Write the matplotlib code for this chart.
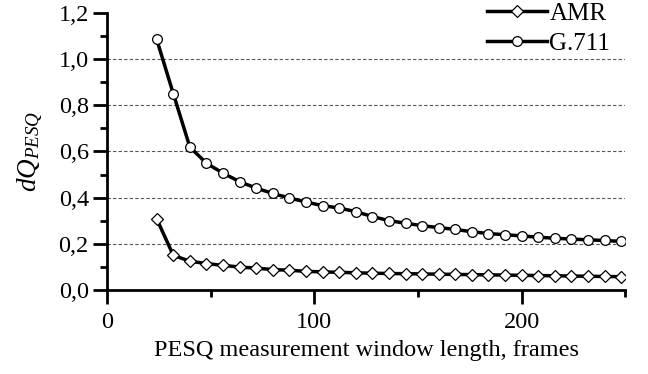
import matplotlib
matplotlib.use("Agg")
import matplotlib.pyplot as plt
from matplotlib.ticker import MultipleLocator, FuncFormatter

# =========================================================
# 1. DATA
# =========================================================

window_frames = [24, 32, 40, 48, 56, 64, 72, 80, 88, 96, 104, 112, 120, 128,
                 136, 144, 152, 160, 168, 176, 184, 192, 200, 208, 216, 224,
                 232, 240, 248]

dq_g711 = [1.086, 0.851, 0.619, 0.549, 0.506, 0.469, 0.441, 0.418, 0.398,
           0.381, 0.365, 0.355, 0.339, 0.318, 0.300, 0.289, 0.278, 0.270,
           0.262, 0.252, 0.244, 0.239, 0.234, 0.228, 0.224, 0.220, 0.217,
           0.214, 0.210]

dq_amr = [0.308, 0.150, 0.124, 0.114, 0.106, 0.099, 0.094, 0.088, 0.085,
          0.080, 0.078, 0.076, 0.074, 0.072, 0.071, 0.070, 0.069, 0.068,
          0.067, 0.066, 0.065, 0.064, 0.063, 0.062, 0.061, 0.060, 0.059,
          0.058, 0.057]

# =========================================================
# 2. STYLE
# =========================================================

plt.rcParams["font.family"] = ["Liberation Serif", "DejaVu Serif"]
plt.rcParams["mathtext.fontset"] = "custom"
plt.rcParams["mathtext.it"] = "Liberation Serif:italic"
plt.rcParams["mathtext.rm"] = "Liberation Serif"

LINE_COLOR = "black"
GRID_COLOR = "#555555"
FONT_SIZE = 17.5

# =========================================================
# 3. PLOT
# =========================================================

fig = plt.figure(figsize=(6.48, 3.74), dpi=100)
ax = fig.add_axes([0.165, 0.225, 0.800, 0.740])

ax.plot(
    window_frames,
    dq_amr,
    color=LINE_COLOR,
    linewidth=2.5,
    marker="D",
    markersize=6.5,
    markerfacecolor="white",
    markeredgecolor="black",
    markeredgewidth=0.9,
    label="AMR",
    zorder=3,
)

ax.plot(
    window_frames,
    dq_g711,
    color=LINE_COLOR,
    linewidth=2.5,
    marker="o",
    markersize=7,
    markerfacecolor="white",
    markeredgecolor="black",
    markeredgewidth=0.9,
    label="G.711",
    zorder=3,
)

ax.set_xlim(0, 250)
ax.set_ylim(0, 1.2)

ax.xaxis.set_major_locator(MultipleLocator(100))
ax.xaxis.set_minor_locator(MultipleLocator(50))
ax.yaxis.set_major_locator(MultipleLocator(0.2))
ax.yaxis.set_minor_locator(MultipleLocator(0.1))

ax.yaxis.set_major_formatter(
    FuncFormatter(lambda v, pos: f"{v:.1f}".replace(".", ","))
)

for y in [0.2, 0.4, 0.6, 0.8, 1.0]:
    ax.axhline(y, color=GRID_COLOR, linestyle=(0, (3, 2)), linewidth=0.8, zorder=1)

for side in ["top", "right"]:
    ax.spines[side].set_visible(False)

for side in ["left", "bottom"]:
    ax.spines[side].set_linewidth(2)

ax.tick_params(which="major", direction="out", length=10, width=2,
               labelsize=FONT_SIZE, pad=3)
ax.tick_params(axis="x", which="major", pad=6)
ax.tick_params(which="minor", direction="out", length=5, width=2)

ax.set_xlabel("PESQ measurement window length, frames", fontsize=FONT_SIZE, labelpad=5)
ax.set_ylabel(r"$dQ_{PESQ}$", fontsize=FONT_SIZE + 2, labelpad=9)

ax.legend(
    loc="upper right",
    bbox_to_anchor=(0.99, 1.075),
    frameon=False,
    fontsize=FONT_SIZE + 0.5,
    handlelength=2.4,
    handletextpad=0.1,
    labelspacing=0.3,
    borderaxespad=0.0,
)

fig.savefig("out.png", dpi=100)
plt.close(fig)

print("Saved: out.png")
